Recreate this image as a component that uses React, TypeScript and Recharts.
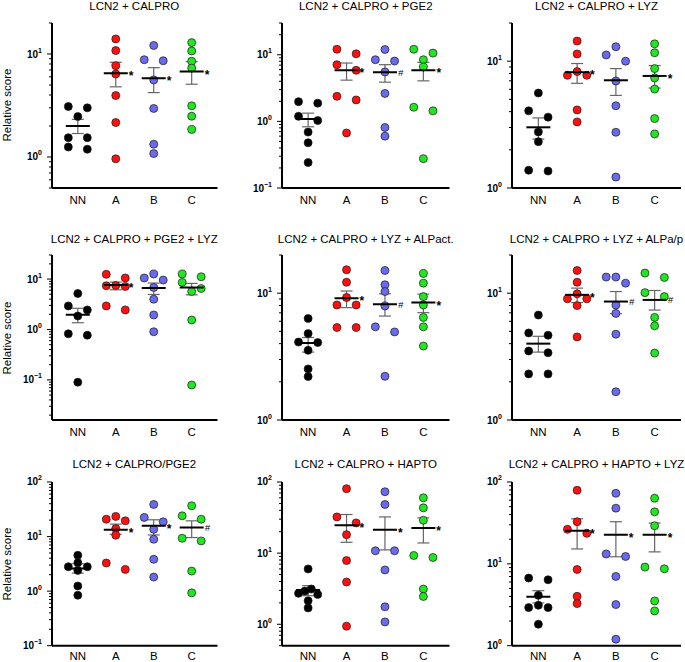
import React from "react";
import { ScatterChart, Scatter, XAxis, YAxis, ErrorBar } from "recharts";

const groups = ["NN", "A", "B", "C"];
const colors = ["#000000", "#ff1010", "#6a6aee", "#22e622"];

const titles = [
  "LCN2 + CALPRO",
  "LCN2 + CALPRO + PGE2",
  "LCN2 + CALPRO + LYZ",
  "LCN2 + CALPRO + PGE2 + LYZ",
  "LCN2 + CALPRO + LYZ + ALPact.",
  "LCN2 + CALPRO + LYZ + ALPa/p",
  "LCN2 + CALPRO/PGE2",
  "LCN2 + CALPRO + HAPTO",
  "LCN2 + CALPRO + HAPTO + LYZ",
];

const yDomains = [
  [0.5, 20], [0.1, 30], [1, 20],
  [0.016, 30], [1, 20], [1, 20],
  [0.1, 100], [0.5, 100], [1, 100],
];

// dot values, per group NN, A, B, C
const dots1 = [
  [3.09, 3.0, 2.47, 1.54, 1.54, 1.25, 1.19],
  [14.0, 10.8, 7.7, 6.4, 3.95, 2.16, 0.96],
  [12.1, 8.6, 8.8, 5.6, 2.96, 1.33, 1.08],
  [12.9, 10.7, 8.5, 7.3, 3.14, 2.49, 1.85],
];
const dots2 = [
  [1.98, 1.88, 1.19, 1.03, 0.69, 0.478, 0.241],
  [12.1, 10.35, 7.1, 5.85, 2.38, 2.1, 0.67],
  [12.0, 8.05, 8.43, 5.53, 2.63, 0.81, 0.6],
  [12.1, 10.6, 8.43, 6.56, 1.63, 1.44, 0.276],
];
const dots3 = [
  [5.61, 4.06, 3.62, 2.77, 2.32, 1.38, 1.36],
  [14.4, 11.4, 8.28, 7.74, 7.74, 4.13, 3.32],
  [13.0, 11.2, 10.0, 6.98, 4.45, 2.75, 1.22],
  [13.7, 11.65, 8.74, 7.38, 6.03, 3.53, 2.67],
];
const dots4 = [
  [5.17, 2.93, 2.44, 1.85, 0.82, 0.77, 0.09],
  [12.4, 10.5, 7.47, 7.36, 7.13, 2.93, 2.44],
  [12.6, 10.5, 9.55, 6.81, 3.98, 1.94, 0.9],
  [12.6, 11.1, 8.58, 6.5, 5.67, 1.54, 0.079],
];
const dots5 = [
  [6.32, 4.8, 4.12, 4.08, 3.54, 2.53, 2.2],
  [15.3, 12.2, 9.24, 8.07, 8.07, 5.36, 5.36],
  [15.1, 11.65, 10.3, 7.93, 5.43, 4.95, 2.21],
  [14.3, 12.0, 9.4, 8.07, 6.44, 5.43, 3.83],
];
const dots6 = [
  [6.72, 4.86, 4.66, 3.5, 3.39, 2.31, 2.31],
  [15.1, 12.2, 9.88, 9.02, 9.02, 7.98, 4.52],
  [13.4, 13.4, 12.0, 8.07, 6.93, 4.75, 1.67],
  [14.4, 13.3, 10.1, 9.4, 6.44, 5.53, 3.37],
];
const dots7 = [
  [4.53, 3.32, 2.8, 2.8, 2.4, 1.24, 0.84],
  [23.4, 20.8, 19.4, 14.0, 10.6, 3.28, 2.5],
  [38.8, 22.4, 18.6, 13.6, 8.93, 3.83, 1.81],
  [36.7, 24.0, 20.8, 9.31, 8.32, 2.33, 0.93],
];
const dots8 = [
  [6.0, 3.13, 2.93, 2.72, 2.63, 2.14, 1.7],
  [80.5, 32.3, 26.6, 18.2, 7.87, 3.93, 0.94],
  [73, 48.3, 10.8, 10.8, 5.81, 1.76, 1.08],
  [60, 43.3, 29.0, 9.27, 8.69, 3.13, 2.46],
];
const dots9 = [
  [6.7, 6.39, 4.12, 3.12, 2.92, 2.92, 1.83],
  [79.2, 32.7, 26.4, 23.6, 8.53, 4.01, 3.27],
  [72.8, 47.9, 13.2, 12.3, 7.02, 3.18, 1.2],
  [63.3, 43.2, 29.2, 9.12, 8.7, 3.52, 2.66],
];

// mean and SEM bounds, per group NN, A, B, C
const means = [
  [2.0, 6.5, 5.8, 6.75],
  [1.09, 5.85, 5.48, 5.85],
  [3.01, 8.18, 7.07, 7.65],
  [1.96, 7.59, 6.61, 6.81],
  [4.05, 9.12, 8.17, 8.43],
  [4.0, 9.7, 8.59, 8.85],
  [2.61, 13.3, 15.7, 14.6],
  [3.03, 24.6, 21.4, 22.6],
  [3.97, 25.4, 22.7, 22.7],
];
const semLow = [
  [1.69, 4.8, 4.22, 5.09],
  [0.83, 4.16, 3.88, 4.06],
  [2.43, 6.69, 5.37, 6.14],
  [1.36, 6.12, 4.94, 4.86],
  [3.43, 7.69, 6.6, 7.02],
  [3.43, 8.43, 6.89, 7.36],
  [2.14, 11.0, 10.7, 9.59],
  [2.52, 14.2, 11.1, 13.9],
  [3.33, 15.2, 12.2, 14.0],
];
const semHigh = [
  [2.32, 8.3, 7.37, 8.43],
  [1.33, 7.52, 7.1, 7.7],
  [3.57, 9.58, 8.74, 9.24],
  [2.63, 8.7, 8.32, 8.2],
  [4.47, 10.4, 9.88, 9.82],
  [4.57, 10.96, 10.3, 10.5],
  [3.18, 16.9, 20.3, 19.4],
  [3.49, 34.9, 32.3, 31.3],
  [4.7, 35.5, 32.7, 31.5],
];
const marks = [
  ["", "*", "*", "*"],
  ["", "*", "#", "*"],
  ["", "*", "", "*"],
  ["", "*", "", ""],
  ["", "*", "#", "*"],
  ["", "*", "#", "#"],
  ["", "*", "*", "#"],
  ["", "*", "*", "*"],
  ["", "*", "*", "*"],
];

const allDots = [dots1, dots2, dots3, dots4, dots5, dots6, dots7, dots8, dots9];

// layout
const rows = [
  { t: 22.7, b: 187.7, title: 10.5, labelGap: 2 },
  { t: 255, b: 420, title: 243.5, labelGap: 2 },
  { t: 482, b: 645.7, title: 469, labelGap: 0 },
];
const cols = [
  { l: 51.5, r: 217 },
  { l: 282, r: 449.5 },
  { l: 512, r: 681 },
];
const X_DOMAIN = [-0.68, 3.68];
const SPREAD = 0.25;
const OVERLAP_PX = 6.5;
const FONT = "'Liberation Sans', Arial, Helvetica, sans-serif";

function logTicks(min: number, max: number) {
  const out: number[] = [];
  for (let d = Math.floor(Math.log10(min)); d <= Math.ceil(Math.log10(max)); d++) {
    for (let m = 1; m <= 9; m++) {
      const v = parseFloat((m * Math.pow(10, d)).toPrecision(6));
      if (v >= min * 0.9999 && v <= max * 1.0001) out.push(v);
    }
  }
  return out;
}

// side-by-side placement for dots that would overlap (like a column scatter plot)
function spreadOffsets(values: number[], pxPerDecade: number) {
  const order = values.map((_, i) => i).sort((a, b) => values[b] - values[a]);
  const groupsOf: number[][] = [];
  let cur: number[] = [];
  let start = 0;
  for (const i of order) {
    const lv = Math.log10(values[i]);
    if (cur.length && (start - lv) * pxPerDecade <= OVERLAP_PX) cur.push(i);
    else {
      if (cur.length) groupsOf.push(cur);
      cur = [i];
      start = lv;
    }
  }
  if (cur.length) groupsOf.push(cur);
  const off = values.map(() => 0);
  groupsOf.forEach((g) => {
    const n = g.length;
    if (n < 2) return;
    const slots = Array.from({ length: n }, (_, k) => -1 + (2 * k) / (n - 1));
    slots.sort((a, b) => Math.abs(a) - Math.abs(b) || a - b);
    g.forEach((i, k) => (off[i] = slots[k] * SPREAD));
  });
  return off;
}

const LogTick = (props: any) => {
  const { x, y, payload } = props;
  const lg = Math.log10(payload.value);
  const e = Math.round(lg);
  const major = Math.abs(lg - e) < 1e-6;
  return (
    <g>
      <line x1={x - (major ? 5 : 3)} x2={x} y1={y} y2={y} stroke="#000" strokeWidth={1} />
      {major && (
        <text x={x - 10} y={y + 3.5} textAnchor="end" fontSize={10} fontWeight="bold" fill="#000">
          10
          <tspan dy={-5} fontSize={7}>{e < 0 ? "\u2212" + -e : String(e)}</tspan>
        </text>
      )}
    </g>
  );
};

const makeDot = (color: string) => (p: any) => (
  <circle cx={p.cx} cy={p.cy} r={4} fill={color} stroke="#1a1a1a" strokeWidth={0.7} />
);

const MeanShape = (p: any) => {
  const mark = p.payload.mark;
  return (
    <g>
      <line x1={p.cx - 12} x2={p.cx + 12} y1={p.cy} y2={p.cy} stroke="#000" strokeWidth={2} />
      {mark === "*" && (
        <text x={p.cx + 13} y={p.cy + 7} fontSize={12} fontWeight="bold" fill="#000">*</text>
      )}
      {mark === "#" && (
        <text x={p.cx + 13} y={p.cy + 3.5} fontSize={9.5} fontStyle="italic" fill="#000">#</text>
      )}
    </g>
  );
};

function Panel({ index }: { index: number }) {
  const row = rows[Math.floor(index / 3)];
  const col = cols[index % 3];
  const [ymin, ymax] = yDomains[index];
  const plotH = row.b - row.t;
  const pxPerDecade = plotH / (Math.log10(ymax) - Math.log10(ymin));
  const dots = allDots[index];
  const summary = groups.map((_, g) => ({
    x: g,
    y: means[index][g],
    err: [means[index][g] - semLow[index][g], semHigh[index][g] - means[index][g]],
    mark: marks[index][g],
  }));
  const chartW = col.r - col.l + 54;
  const chartH = plotH + 40;
  return (
    <>
      <div
        style={{
          position: "absolute", left: (col.l + col.r) / 2, top: row.title - 9.7,
          transform: "translateX(-50%)", whiteSpace: "nowrap", fontSize: 11.5, lineHeight: "11.5px", color: "#000",
        }}
      >
        {titles[index]}
      </div>
      {index % 3 === 0 && (
        <div
          style={{
            position: "absolute", left: 7, top: (row.t + row.b) / 2,
            transform: "translate(-50%, -50%) rotate(-90deg)", whiteSpace: "nowrap", fontSize: 11.5, lineHeight: "12px",
          }}
        >
          Relative score
        </div>
      )}
      <div style={{ position: "absolute", left: col.l - 50, top: row.t - 10 }}>
        <ScatterChart width={chartW} height={chartH} margin={{ top: 10, right: 4, bottom: 0, left: 0 }}>
          <XAxis
            type="number" dataKey="x" domain={X_DOMAIN} allowDataOverflow ticks={[0, 1, 2, 3]} interval={0}
            tickFormatter={(v: number) => groups[v]} height={30} tickLine={false} tickSize={6} tickMargin={row.labelGap}
            axisLine={{ stroke: "#000", strokeWidth: 2 }} tick={{ fontSize: 11.5, fill: "#000" }}
          />
          <YAxis
            type="number" dataKey="y" scale="log" domain={[ymin, ymax]} allowDataOverflow
            ticks={logTicks(ymin, ymax)} interval={0} width={50} tickLine={false} tickSize={0} tickMargin={0}
            axisLine={{ stroke: "#000", strokeWidth: 2 }} tick={<LogTick />}
          />
          {dots.map((vals, g) => {
            const off = spreadOffsets(vals, pxPerDecade);
            const data = vals.map((v, i) => ({ x: g + off[i], y: v }));
            return (
              <Scatter key={g} data={data} fill={colors[g]} shape={makeDot(colors[g])} isAnimationActive={false} />
            );
          })}
          <Scatter data={summary} shape={<MeanShape />} isAnimationActive={false}>
            <ErrorBar dataKey="err" direction="y" width={6} stroke="#666" strokeWidth={1.2} />
          </Scatter>
        </ScatterChart>
      </div>
    </>
  );
}

export default function App() {
  return (
    <div
      style={{
        position: "absolute", left: 0, top: 0, width: 685, height: 662,
        background: "#fff", fontFamily: FONT, overflow: "hidden",
      }}
    >
      {titles.map((_, i) => (
        <Panel key={i} index={i} />
      ))}
    </div>
  );
}
